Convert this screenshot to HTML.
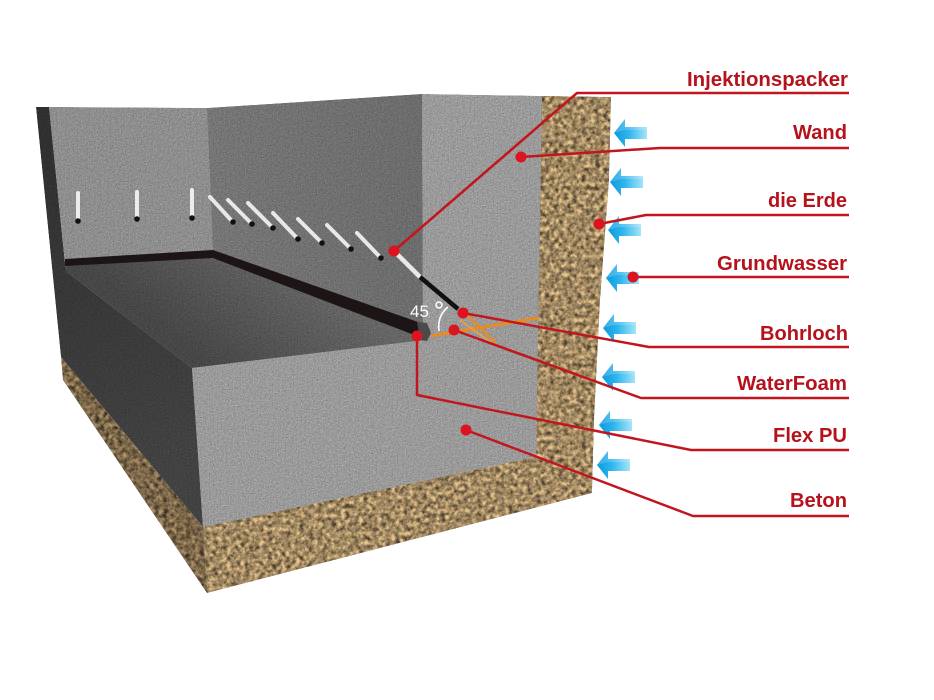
<!DOCTYPE html>
<html>
<head>
<meta charset="utf-8">
<style>
  html,body{margin:0;padding:0;background:#fff;}
  svg{display:block;}
  .lbl{font-family:"Liberation Sans",Arial,sans-serif;font-weight:bold;font-size:20px;fill:#b5121c;}
</style>
</head>
<body>
<svg width="934" height="700" viewBox="0 0 934 700" xmlns="http://www.w3.org/2000/svg">
  <defs>
    <filter id="grainC" filterUnits="userSpaceOnUse" x="0" y="0" width="934" height="700" color-interpolation-filters="sRGB">
      <feTurbulence type="fractalNoise" baseFrequency="0.75" numOctaves="2" seed="3" result="t"/>
      <feColorMatrix in="t" type="matrix" values="0.33 0.33 0.33 0 0  0.33 0.33 0.33 0 0  0.33 0.33 0.33 0 0  0 0 0 0 1" result="g"/>
      <feComponentTransfer in="g" result="g2">
        <feFuncR type="linear" slope="1.8" intercept="-0.4"/>
        <feFuncG type="linear" slope="1.8" intercept="-0.4"/>
        <feFuncB type="linear" slope="1.8" intercept="-0.4"/>
      </feComponentTransfer>
      <feComposite in="SourceGraphic" in2="g2" operator="arithmetic" k1="0.55" k2="0.73" k3="0" k4="0" result="c"/>
      <feComposite in="c" in2="SourceGraphic" operator="in"/>
    </filter>
    <filter id="grainG" filterUnits="userSpaceOnUse" x="0" y="0" width="934" height="700" color-interpolation-filters="sRGB">
      <feTurbulence type="fractalNoise" baseFrequency="0.22" numOctaves="3" seed="7" result="t"/>
      <feColorMatrix in="t" type="matrix" values="0.33 0.33 0.33 0 0  0.33 0.33 0.33 0 0  0.33 0.33 0.33 0 0  0 0 0 0 1" result="g"/>
      <feComponentTransfer in="g" result="g2">
        <feFuncR type="linear" slope="3.0" intercept="-0.95"/>
        <feFuncG type="linear" slope="3.0" intercept="-0.95"/>
        <feFuncB type="linear" slope="3.0" intercept="-0.95"/>
      </feComponentTransfer>
      <feComposite in="SourceGraphic" in2="g2" operator="arithmetic" k1="0.95" k2="0.45" k3="0" k4="0" result="c"/>
      <feComposite in="c" in2="SourceGraphic" operator="in"/>
    </filter>
    <linearGradient id="floorG" gradientUnits="userSpaceOnUse" x1="300" y1="262" x2="215" y2="368">
      <stop offset="0" stop-color="#666666"/>
      <stop offset="1" stop-color="#474747"/>
    </linearGradient>
    <linearGradient id="midG" gradientUnits="userSpaceOnUse" x1="207" y1="0" x2="423" y2="0">
      <stop offset="0" stop-color="#767676"/>
      <stop offset="1" stop-color="#6c6c6c"/>
    </linearGradient>
    <linearGradient id="leftG" gradientUnits="userSpaceOnUse" x1="40" y1="150" x2="200" y2="450">
      <stop offset="0" stop-color="#303030"/>
      <stop offset="1" stop-color="#424242"/>
    </linearGradient>
    <linearGradient id="arrG" x1="0" y1="0" x2="1" y2="0">
      <stop offset="0" stop-color="#0b98de"/>
      <stop offset="0.45" stop-color="#2fb6ee"/>
      <stop offset="1" stop-color="#a6e4f8"/>
    </linearGradient>
    <g id="arrow">
      <polygon points="0,14 11,0 11,8 33,8 33,20 11,20 11,28" fill="url(#arrG)"/>
      <polygon points="0,14 11,0 11,8 33,8 33,11 11,11" fill="#ffffff" opacity="0.18"/>
    </g>
  </defs>

  <rect x="0" y="0" width="934" height="700" fill="#ffffff"/>

  <!-- concrete -->
  <g filter="url(#grainC)">
    <polygon points="36,107 49,107 65,263 67,272 192,368 203,527 61,357" fill="url(#leftG)"/>
    <polygon points="49,107 207,108 213,252 65,262" fill="#8e8e8e"/>
    <polygon points="207,108 422,94 423,330 418,323 213,252" fill="url(#midG)"/>
    <polygon points="65,262 213,253 420,331 425,340 192,368 67,272" fill="url(#floorG)"/>
    <polygon points="422,94 543,96 536,457 203,527 192,368 425,340 423,330" fill="#9a9a9a"/>
  </g>

  <!-- gravel -->
  <g filter="url(#grainG)">
    <polygon points="542,96 611,97 609,180 600,300 594,420 592,493 207,593 203,527 536,457" fill="#a88e66"/>
    <polygon points="61,357 203,527 207,593 63,380" fill="#806b4c"/>
  </g>

  <!-- seal line -->
  <polygon points="65,259 213,250 213,258 65,266" fill="#1d1515"/>
  <polygon points="213,250 418,322 422,338 213,258" fill="#1d1515"/>
  <polygon points="417,322 427,323 431,333 427,341 420,340" fill="#4a4a4a"/>

  <!-- packers -->
  <g stroke-linecap="round">
    <line x1="78" y1="193" x2="78" y2="219" stroke="#ececec" stroke-width="4"/>
    <line x1="137" y1="192" x2="137" y2="217" stroke="#ececec" stroke-width="4"/>
    <line x1="192" y1="190" x2="192" y2="216" stroke="#ececec" stroke-width="4"/>
    <line x1="210" y1="197" x2="231" y2="220" stroke="#e8e8e8" stroke-width="4"/>
    <line x1="228" y1="200" x2="250" y2="222" stroke="#e8e8e8" stroke-width="4"/>
    <line x1="248" y1="203" x2="271" y2="226" stroke="#e8e8e8" stroke-width="4"/>
    <line x1="273" y1="213" x2="296" y2="237" stroke="#e8e8e8" stroke-width="4"/>
    <line x1="298" y1="219" x2="320" y2="241" stroke="#e8e8e8" stroke-width="4"/>
    <line x1="327" y1="225" x2="349" y2="247" stroke="#e8e8e8" stroke-width="4"/>
    <line x1="357" y1="233" x2="379" y2="256" stroke="#e8e8e8" stroke-width="4"/>
    <line x1="394" y1="251" x2="420" y2="277" stroke="#e8e8e8" stroke-width="4.5"/>
    <line x1="420" y1="277" x2="458" y2="309" stroke="#111111" stroke-width="4.5" stroke-linecap="butt"/>
  </g>
  <g fill="#111">
    <circle cx="78" cy="221" r="2.8"/>
    <circle cx="137" cy="219" r="2.8"/>
    <circle cx="192" cy="218" r="2.8"/>
    <circle cx="233" cy="222" r="2.8"/>
    <circle cx="252" cy="224" r="2.8"/>
    <circle cx="273" cy="228" r="2.8"/>
    <circle cx="298" cy="239" r="2.8"/>
    <circle cx="322" cy="243" r="2.8"/>
    <circle cx="351" cy="249" r="2.8"/>
    <circle cx="381" cy="258" r="2.8"/>
  </g>

  <!-- orange foam lines -->
  <line x1="431" y1="336" x2="538" y2="318" stroke="#e98a23" stroke-width="3"/>
  <line x1="467" y1="315" x2="496" y2="343" stroke="#e98a23" stroke-width="2.5"/>
  <line x1="460" y1="320" x2="490" y2="342" stroke="#f0a040" stroke-width="1.5"/>

  <!-- 45 degree -->
  <text x="410" y="317" font-family="Liberation Sans, Arial, sans-serif" font-size="17" fill="#ffffff">45</text>
  <circle cx="439" cy="305" r="3" fill="none" stroke="#ffffff" stroke-width="1.5"/>
  <path d="M439,331 Q437,316 448,307" fill="none" stroke="#ffffff" stroke-width="1.6"/>

  <!-- arrows -->
  <use href="#arrow" x="614" y="119"/>
  <use href="#arrow" x="610" y="168"/>
  <use href="#arrow" x="608" y="216"/>
  <use href="#arrow" x="606" y="264"/>
  <use href="#arrow" x="603" y="314"/>
  <use href="#arrow" x="602" y="363"/>
  <use href="#arrow" x="599" y="411"/>
  <use href="#arrow" x="597" y="451"/>

  <!-- red connectors -->
  <g fill="none" stroke="#c2161f" stroke-width="2.5" stroke-linejoin="round">
    <polyline points="394,251 577,93 849,93"/>
    <polyline points="521,157 660,148 849,148"/>
    <polyline points="599,224 646,215 849,215"/>
    <polyline points="633,277 849,277"/>
    <polyline points="463,313 649,347 849,347"/>
    <polyline points="454,330 641,398 849,398"/>
    <polyline points="417,336 417,395 691,450 849,450"/>
    <polyline points="466,430 693,516 849,516"/>
  </g>
  <g fill="#dc1420">
    <circle cx="394" cy="251" r="5.5"/>
    <circle cx="521" cy="157" r="5.5"/>
    <circle cx="599" cy="224" r="5.5"/>
    <circle cx="633" cy="277" r="5.5"/>
    <circle cx="463" cy="313" r="5.5"/>
    <circle cx="454" cy="330" r="5.5"/>
    <circle cx="417" cy="336" r="5.5"/>
    <circle cx="466" cy="430" r="5.5"/>
  </g>

  <!-- labels -->
  <text class="lbl" x="848" y="86" text-anchor="end" textLength="161" lengthAdjust="spacingAndGlyphs">Injektionspacker</text>
  <text class="lbl" x="847" y="139" text-anchor="end" textLength="54" lengthAdjust="spacingAndGlyphs">Wand</text>
  <text class="lbl" x="847" y="207" text-anchor="end" textLength="79" lengthAdjust="spacingAndGlyphs">die Erde</text>
  <text class="lbl" x="847" y="270" text-anchor="end" textLength="130" lengthAdjust="spacingAndGlyphs">Grundwasser</text>
  <text class="lbl" x="848" y="340" text-anchor="end" textLength="88" lengthAdjust="spacingAndGlyphs">Bohrloch</text>
  <text class="lbl" x="847" y="390" text-anchor="end" textLength="110" lengthAdjust="spacingAndGlyphs">WaterFoam</text>
  <text class="lbl" x="847" y="442" text-anchor="end" textLength="74" lengthAdjust="spacingAndGlyphs">Flex PU</text>
  <text class="lbl" x="847" y="507" text-anchor="end" textLength="57" lengthAdjust="spacingAndGlyphs">Beton</text>
</svg>
</body>
</html>
